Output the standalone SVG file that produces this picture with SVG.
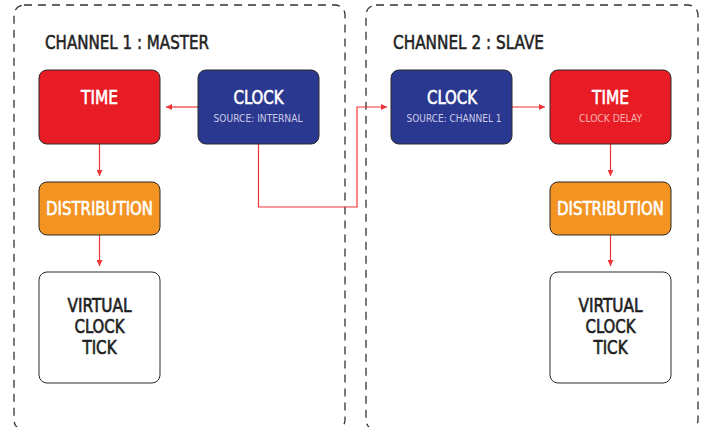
<svg xmlns="http://www.w3.org/2000/svg" width="705" height="427" viewBox="0 0 705 427">
<style>
.chan{fill:none;stroke:#333;stroke-width:1.3;stroke-dasharray:8 6}
.box{stroke:#2a2a2a;stroke-width:1}
.red{fill:#e81c24}
.blue{fill:#2b388f}
.orange{fill:#f39322}
.white{fill:#fff}
text{font-family:"DejaVu Sans Condensed","Liberation Sans Narrow","Liberation Sans",sans-serif;text-anchor:middle}
.lbl{font-size:19px;fill:#fff;stroke:#fff;stroke-width:0.6}
.sub{font-size:11px;fill:#c9cbe8}
.title{font-size:19px;fill:#222;stroke:#222;stroke-width:0.5;text-anchor:start}
.dark{font-size:19px;fill:#1e1e1e;stroke:#1e1e1e;stroke-width:0.6}
.conn{fill:none;stroke:#ef3438;stroke-width:1.2}
</style>
<defs>
<marker id="ah" viewBox="0 0 6 6" refX="6" refY="3" markerWidth="6" markerHeight="6" markerUnits="userSpaceOnUse" orient="auto">
<path d="M0,0 L6,3 L0,6 z" fill="#ef3438"/>
</marker>
</defs>
<g id="channel1">
<rect class="chan" x="14" y="5" width="331" height="425" rx="10"/>
<text class="title" x="45" y="49" textLength="164" lengthAdjust="spacingAndGlyphs">CHANNEL 1 : MASTER</text>
</g>
<g id="channel2">
<rect class="chan" x="366" y="5" width="332" height="425" rx="10"/>
<text class="title" x="393" y="49" textLength="151" lengthAdjust="spacingAndGlyphs">CHANNEL 2 : SLAVE</text>
</g>
<g id="connectors">
<line class="conn" x1="198" y1="107" x2="166" y2="107" marker-end="url(#ah)"/>
<line class="conn" x1="99.5" y1="144" x2="99.5" y2="176" marker-end="url(#ah)"/>
<line class="conn" x1="99.5" y1="235" x2="99.5" y2="266" marker-end="url(#ah)"/>
<polyline class="conn" points="258.5,144 258.5,207 357,207 357,107 387,107" marker-end="url(#ah)"/>
<line class="conn" x1="512" y1="107" x2="545" y2="107" marker-end="url(#ah)"/>
<line class="conn" x1="610.5" y1="144" x2="610.5" y2="176" marker-end="url(#ah)"/>
<line class="conn" x1="610.5" y1="235" x2="610.5" y2="266" marker-end="url(#ah)"/>
</g>
<g id="time1">
<rect class="box red" x="39" y="70" width="121" height="74" rx="8"/>
<text class="lbl" x="99.5" y="104" textLength="37" lengthAdjust="spacingAndGlyphs">TIME</text>
</g>
<g id="clock1">
<rect class="box blue" x="198" y="70" width="121" height="74" rx="8"/>
<text class="lbl" x="258.5" y="104" textLength="50" lengthAdjust="spacingAndGlyphs">CLOCK</text>
<text class="sub" x="258" y="122" textLength="89" lengthAdjust="spacingAndGlyphs">SOURCE: INTERNAL</text>
</g>
<g id="distribution1">
<rect class="box orange" x="39" y="182" width="121" height="53" rx="8"/>
<text class="lbl" x="99.5" y="215" textLength="107" lengthAdjust="spacingAndGlyphs">DISTRIBUTION</text>
</g>
<g id="tick1">
<rect class="box white" x="39" y="272" width="121" height="111" rx="8"/>
<text class="dark" x="99.5" y="312" textLength="64" lengthAdjust="spacingAndGlyphs">VIRTUAL</text>
<text class="dark" x="99.5" y="333" textLength="50" lengthAdjust="spacingAndGlyphs">CLOCK</text>
<text class="dark" x="99.5" y="354" textLength="34" lengthAdjust="spacingAndGlyphs">TICK</text>
</g>
<g id="clock2">
<rect class="box blue" x="391" y="70" width="121" height="74" rx="8"/>
<text class="lbl" x="452" y="104" textLength="50" lengthAdjust="spacingAndGlyphs">CLOCK</text>
<text class="sub" x="454" y="122" textLength="95" lengthAdjust="spacingAndGlyphs">SOURCE: CHANNEL 1</text>
</g>
<g id="time2">
<rect class="box red" x="550" y="70" width="121" height="74" rx="8"/>
<text class="lbl" x="610.5" y="104" textLength="37" lengthAdjust="spacingAndGlyphs">TIME</text>
<text class="sub" x="610.5" y="122" textLength="63" lengthAdjust="spacingAndGlyphs" style="fill:#f7b3b3">CLOCK DELAY</text>
</g>
<g id="distribution2">
<rect class="box orange" x="550" y="182" width="121" height="53" rx="8"/>
<text class="lbl" x="610.5" y="215" textLength="107" lengthAdjust="spacingAndGlyphs">DISTRIBUTION</text>
</g>
<g id="tick2">
<rect class="box white" x="550" y="272" width="121" height="111" rx="8"/>
<text class="dark" x="610.5" y="312" textLength="64" lengthAdjust="spacingAndGlyphs">VIRTUAL</text>
<text class="dark" x="610.5" y="333" textLength="50" lengthAdjust="spacingAndGlyphs">CLOCK</text>
<text class="dark" x="610.5" y="354" textLength="34" lengthAdjust="spacingAndGlyphs">TICK</text>
</g>
</svg>
